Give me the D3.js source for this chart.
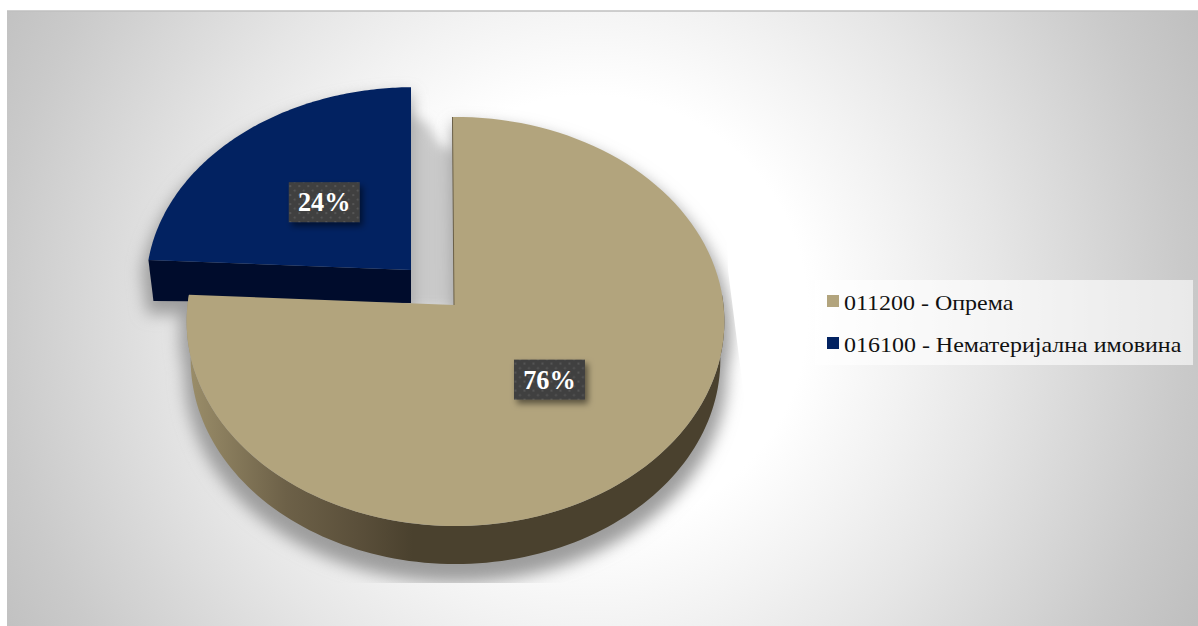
<!DOCTYPE html>
<html><head><meta charset="utf-8">
<style>html,body{margin:0;padding:0;background:#fff;overflow:hidden}svg{display:block}</style>
<script src="https://cdn.jsdelivr.net/npm/d3@7/dist/d3.min.js"></script>
</head><body><svg id="c" width="1198" height="626"></svg>
<script>
const categories = ["011200 - Опрема", "016100 - Нематеријална имовина"];
const values = [76, 24];
const valueLabels = ["76%", "24%"];
const colors = ["#b2a47d", "#022261"];

const svg = d3.select("#c");
const defs = svg.append("defs");

const bg = defs.append("radialGradient").attr("id","bg").attr("gradientUnits","userSpaceOnUse")
  .attr("cx",590).attr("cy",313).attr("r",680);
[[0,"#ffffff"],[0.32,"#ffffff"],[0.47,"#f2f2f2"],[0.6,"#e6e6e6"],[0.87,"#cacaca"],[1,"#bfbfbf"]]
  .forEach(s=>bg.append("stop").attr("offset",s[0]).attr("stop-color",s[1]));

const wallGrad = defs.append("linearGradient").attr("id","wall").attr("gradientUnits","userSpaceOnUse")
  .attr("x1",190).attr("x2",720).attr("y1",0).attr("y2",0);
[[0,"#9a8d69"],[0.18,"#6d6148"],[0.32,"#5a4f3a"],[0.42,"#4a412e"],[1,"#4a412e"]].forEach(s=>wallGrad.append("stop").attr("offset",s[0]).attr("stop-color",s[1]));

const pat = defs.append("pattern").attr("id","dots").attr("width",9).attr("height",9).attr("patternUnits","userSpaceOnUse");
pat.append("rect").attr("width",9).attr("height",9).attr("fill","#404040");
pat.append("circle").attr("cx",2).attr("cy",2).attr("r",1).attr("fill","#5c5c5c");
pat.append("circle").attr("cx",6.5).attr("cy",6.5).attr("r",1).attr("fill","#5c5c5c");

const blur = defs.append("filter").attr("id","blur").attr("x","-20%").attr("y","-20%").attr("width","140%").attr("height","140%");
blur.append("feGaussianBlur").attr("stdDeviation",8);
const blurS = defs.append("filter").attr("id","blurS").attr("x","-30%").attr("y","-30%").attr("width","160%").attr("height","160%");
blurS.append("feGaussianBlur").attr("stdDeviation",6);
const lab = defs.append("filter").attr("id","lab").attr("x","-30%").attr("y","-30%").attr("width","160%").attr("height","160%");
lab.append("feDropShadow").attr("dx",3).attr("dy",4).attr("stdDeviation",3).attr("flood-color","#000").attr("flood-opacity",0.5);

// the shadow is cut off by a slanted right edge and a flat lower edge
defs.append("clipPath").attr("id","panel").append("polygon")
  .attr("points","7,11 722,11 728,270 747,420 747,583 7,583");

svg.append("rect").attr("x",7).attr("y",11).attr("width",1191).attr("height",615).attr("fill","url(#bg)");
svg.append("line").attr("x1",7).attr("x2",1198).attr("y1",11).attr("y2",11).attr("stroke","#bfbfbf").attr("stroke-width",1.5);

// pie through d3.pie, then a perspective projection of the unit circle
const TILT = -0.7*Math.PI/180;
const arcs = d3.pie().sort(null).startAngle(TILT).endAngle(2*Math.PI+TILT).value(d=>d)(values);
const K = 0.0807;
const geom = [
  {cx:454, cy:305, ex:1.5, rx:268, ry:203.2, rimS:0.985, depthRim:38, depthApex:38, labelR:0.495, wall:"url(#wall)"},
  {cx:411, cy:270, ex:3,   rx:267, ry:197.6, rimS:0.981, depthRim:41, depthApex:33, labelR:0.49,  wall:"#000c2c"}
];
function proj(g, a, r){
  const u=Math.sin(a)*r, v=Math.cos(a)*r, w=1+K*v;
  return [g.cx+g.ex*r+g.rx*u/w, g.cy-g.ry*v/w];
}
function rim(g, a){
  const p=proj(g,a,1);
  return [g.cx+g.ex+(p[0]-g.cx-g.ex)*g.rimS, p[1]+g.depthRim];
}
const line=d3.line();
const samples=(a0,a1)=>d3.range(0,121).map(i=>a0+(a1-a0)*i/120);
function topPath(g,d){
  return line([[g.cx,g.cy],...samples(d.startAngle,d.endAngle).map(a=>proj(g,a,1))])+"Z";
}
function wallPath(g,d,i){
  if(i===0){
    const s=samples(Math.PI/2-0.05,d.endAngle);
    return line([...s.map(a=>proj(g,a,1)),...s.slice().reverse().map(a=>rim(g,a))])+"Z";
  }
  const a=d.startAngle;
  return line([proj(g,a,1),[g.cx,g.cy],[g.cx,g.cy+g.depthApex],rim(g,a)])+"Z";
}

const shadow=svg.append("g").attr("clip-path","url(#panel)");
// the gap between the two slices falls in their common shadow: it rises along the blue edge
const tanTop=proj(geom[0],arcs[0].startAngle,1);
const gapL=geom[1].cx, gapR=geom[0].cx, gapT=tanTop[1];
shadow.append("path").attr("filter","url(#blurS)").attr("fill","#c9c9c9")
  .attr("d",line([[gapL-10,gapT-6],[gapL+16,gapT+6],[gapR-14,gapT+28],[gapR+10,gapT+36],[gapR+10,geom[0].cy+4],[gapL-10,geom[0].cy+4]])+"Z");
shadow.append("g").attr("filter","url(#blur)")
  .selectAll("path").data(arcs.flatMap((d,i)=>[[topPath(geom[i],d),i],[wallPath(geom[i],d,i),i]]))
  .join("path").attr("d",d=>d[0]).attr("fill","#9d9d9d")
  .attr("transform",d=>{const g=geom[d[1]];return `translate(${g.cx},${g.cy+12}) scale(1.025) translate(${-g.cx},${-g.cy})`;});

// blue first, tan on top of it
[1,0].forEach(i=>{
  const g=geom[i], d=arcs[i];
  svg.append("path").attr("d",wallPath(g,d,i)).attr("fill",g.wall);
  svg.append("path").attr("d",topPath(g,d)).attr("fill",colors[i]);
});
// thin dark cut edge along the tan slice's opening
svg.append("line").attr("x1",tanTop[0]).attr("y1",tanTop[1]).attr("x2",geom[0].cx).attr("y2",geom[0].cy)
  .attr("stroke","#6b6048").attr("stroke-width",1);

// data labels
arcs.forEach((d,i)=>{
  const c=proj(geom[i],(d.startAngle+d.endAngle)/2,geom[i].labelR);
  const grp=svg.append("g").attr("transform",`translate(${c[0]},${c[1]})`);
  grp.append("rect").attr("x",-35.5).attr("y",-20).attr("width",71).attr("height",40)
    .attr("fill","url(#dots)").attr("filter","url(#lab)");
  grp.append("text").attr("text-anchor","middle").attr("y",9)
    .attr("font-family","'Liberation Serif'").attr("font-weight","bold").attr("font-size",26.3)
    .attr("fill","#fff").text(valueLabels[i]);
});

// legend
svg.append("rect").attr("x",815).attr("y",280).attr("width",378).attr("height",85)
  .attr("fill","#fff").attr("fill-opacity",0.6);
const leg=svg.append("g").selectAll("g").data(categories).join("g")
  .attr("transform",(d,i)=>`translate(827,${295+i*42})`);
leg.append("rect").attr("width",12).attr("height",12).attr("fill",(d,i)=>colors[i]);
leg.append("text").attr("transform","translate(17,14.5) scale(1.09,1)")
  .attr("font-family","'Liberation Serif'").attr("font-size",22).attr("fill","#111").text(d=>d);
</script></body></html>
